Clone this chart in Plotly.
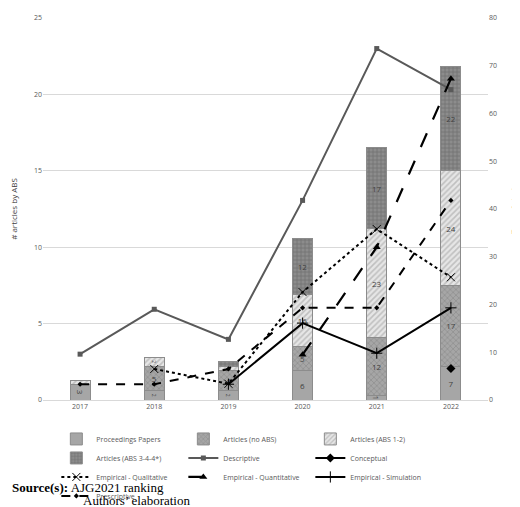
import plotly.graph_objects as go

years = ["2017", "2018", "2019", "2020", "2021", "2022"]
# bar segment heights (left axis) and labels
proc = [1.0, 0.6, 0.6, 1.9, 0.3, 2.2]
proc_lbl = ["3", "2", "2", "6", "1", "7"]
noabs = [0, 1.6, 1.3, 1.6, 3.8, 5.3]
noabs_lbl = ["", "5", "4", "5", "12", "17"]
abs12 = [0.3, 0.6, 0.3, 3.4, 7.1, 7.5]
abs12_lbl = ["", "2", "", "16", "23", "24"]
abs34 = [0, 0, 0.3, 3.7, 5.3, 6.8]
abs34_lbl = ["", "", "", "12", "17", "22"]

descriptive = [9.6, 19, 12.7, 41.8, 73.6, 65]
conceptual = [None, None, None, None, None, 6.6]
qualitative = [None, 6.5, 3.4, 22.6, 35.8, 25.7]
quantitative = [None, None, None, 9.5, 32, 67.3]
simulation = [None, None, 3.3, 16.1, 9.8, 19.3]
prescriptive = [3.3, 3.3, 6.5, 19.3, 19.3, 41.8]

fig = go.Figure()
tf = dict(size=8, color="#404040")
def bar(name, vals, lbl, color, shape, fg):
    fig.add_trace(go.Bar(x=years, y=vals, name=name, text=lbl, textposition="inside",
                         insidetextanchor="middle", textfont=tf, width=0.27,
                         marker=dict(color=color, line=dict(color="#8c8c8c", width=1),
                                     pattern=dict(shape=shape, fgcolor=fg, size=4, solidity=0.4))))
bar("Proceedings Papers", proc, proc_lbl, "#a6a6a6", "", "#a6a6a6")
bar("Articles (no ABS)", noabs, noabs_lbl, "#a6a6a6", "x", "#7f7f7f")
bar("Articles (ABS 1-2)", abs12, abs12_lbl, "#e6e6e6", "/", "#9a9a9a")
bar("Articles (ABS 3-4-4*)", abs34, abs34_lbl, "#8c8c8c", "+", "#5a5a5a")

def line(name, vals, color, dash, sym, w=2, ms=6):
    fig.add_trace(go.Scatter(x=years, y=vals, name=name, yaxis="y2", mode="lines+markers",
                             line=dict(color=color, width=w, dash=dash),
                             marker=dict(symbol=sym, size=ms, color=color)))
line("Descriptive", descriptive, "#595959", "solid", "square", 2, 5)
line("Conceptual", conceptual, "#000000", "solid", "diamond", 2, 7)
line("Empirical - Qualitative", qualitative, "#000000", "dot", "x-thin-open", 2, 8)
line("Empirical - Quantitative", quantitative, "#000000", "longdash", "triangle-up", 2.2, 7)
line("Empirical - Simulation", simulation, "#000000", "solid", "cross-thin-open", 2, 8)
line("Prescriptive", prescriptive, "#000000", "dash", "diamond", 2, 4)

ax_font = dict(size=7, color="#595959")
fig.update_layout(
    width=520, height=507, barmode="stack", plot_bgcolor="white", paper_bgcolor="white",
    margin=dict(l=35, r=40, t=5, b=110),
    font=dict(family="Open Sans, sans-serif", size=8, color="#595959"),
    xaxis=dict(showline=True, linecolor="#d9d9d9", tickfont=ax_font),
    yaxis=dict(range=[0, 25], dtick=5, gridcolor="#d9d9d9", title=dict(text="# articles by ABS", font=dict(size=8, color="#404040")),
               tickfont=ax_font, zeroline=False),
    yaxis2=dict(range=[0, 80], dtick=10, overlaying="y", side="right", showgrid=False,
                title=dict(text="Type of study", font=dict(size=8, color="#404040")), tickfont=ax_font),
    legend=dict(orientation="h", x=0.03, y=-0.064, xanchor="left", yanchor="top",
                traceorder="normal", entrywidth=82, entrywidthmode="pixels",
                font=dict(size=7, color="#595959"), tracegroupgap=0, itemwidth=30),
    annotations=[
        dict(text="<b>Source(s):</b> AJG2021 ranking", xref="paper", yref="paper", x=-0.075, y=-0.23,
             xanchor="left", yanchor="middle", showarrow=False, font=dict(family="Liberation Serif", size=13, color="black")),
        dict(text="Authors’ elaboration", xref="paper", yref="paper", x=0.085, y=-0.262,
             xanchor="left", yanchor="middle", showarrow=False, font=dict(family="Liberation Serif", size=13, color="black")),
    ],
)
fig.write_html("out.html")
